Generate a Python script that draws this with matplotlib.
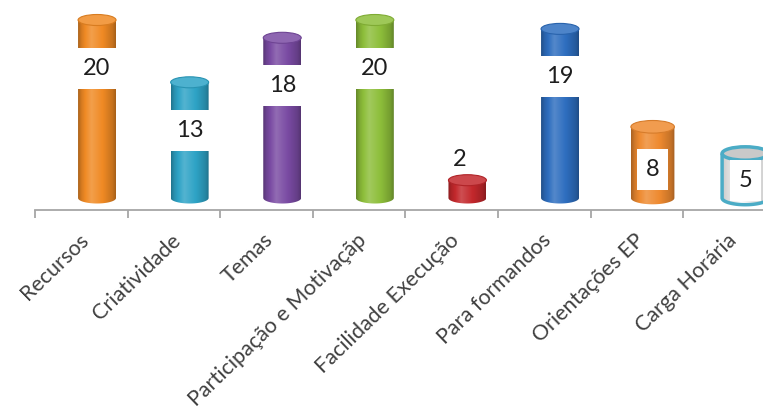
import numpy as np
import matplotlib.pyplot as plt
from matplotlib.patches import Polygon, Ellipse, Rectangle
from matplotlib.colors import to_rgb
from matplotlib import transforms

plt.rcParams['font.family'] = ['Lato', 'DejaVu Sans']

# data
categorias = ['Recursos', 'Criatividade', 'Temas', 'Participação e Motivaçãp',
              'Facilidade Execução', 'Para formandos', 'Orientações EP', 'Carga Horária']
valores = [20, 13, 18, 20, 2, 19, 8, 5]

# style
cores = ['#F08A24', '#2EA3C6', '#7A4BA3', '#8DBE3A', '#C3282C', '#2E6EBF', '#EE8A30', '#FFFFFF']
larguras = [0.41, 0.41, 0.41, 0.41, 0.41, 0.41, 0.47, 0.50]
px_x = 92.6   # pixels per category
px_y = 8.9    # pixels per unit


def sombra(rgb, f):
    rgb = np.array(rgb)
    if f >= 1:
        return rgb + (1 - rgb) * (f - 1)
    return rgb * f


def gradiente(cor, perfil=None, n=60):
    base = to_rgb(cor)
    t = np.linspace(0, 1, n)
    if perfil is None:
        perfil = np.interp(t, [0, 0.08, 0.35, 0.7, 0.92, 1], [0.72, 0.88, 1.18, 0.97, 0.82, 0.7])
    return np.array([sombra(base, f) for f in perfil])[None, :, :]


fig = plt.figure(figsize=(7.63, 4.19), dpi=100)
ax = fig.add_axes([35 / 763, 1 - 210 / 419, 8 * px_x / 763, 210 / 419])
ax.set_xlim(-0.5, 7.5)
ax.set_ylim(-12 / px_y, 198 / px_y)
renderer = fig.canvas.get_renderer()

x = np.arange(len(categorias))
for i, v in enumerate(valores):
    w = larguras[i]
    c = x[i] + 0.17
    e = 0.29 * w * px_x / px_y
    th = np.linspace(np.pi, 2 * np.pi, 40)
    pts = [(c - w / 2, v), (c - w / 2, 0)]
    pts += list(zip(c + w / 2 * np.cos(th), e / 2 * np.sin(th)))
    pts += [(c + w / 2, 0), (c + w / 2, v)]
    if cores[i] == '#FFFFFF':
        corpo = Polygon(pts, closed=True, facecolor='none', edgecolor='#4BACC6', lw=2.5, zorder=3)
        grad = gradiente('#FFFFFF', perfil=np.interp(np.linspace(0, 1, 60), [0, 0.4, 1], [0.8, 1.0, 0.78]))
        topo_cor, topo_borda = '#C9C9C9', '#4BACC6'
        lw_topo = 2.5
    else:
        corpo = Polygon(pts, closed=True, facecolor='none', edgecolor='none', zorder=3)
        grad = gradiente(cores[i])
        topo_cor = sombra(to_rgb(cores[i]), 1.15)
        topo_borda = sombra(to_rgb(cores[i]), 0.9)
        lw_topo = 0.8
    ax.add_patch(corpo)
    im = ax.imshow(grad, extent=(c - w / 2, c + w / 2, -e, v + e), aspect='auto',
                   origin='lower', zorder=2, interpolation='bilinear')
    im.set_clip_path(corpo)
    ax.add_patch(Ellipse((c, v), w, e, facecolor=topo_cor, edgecolor=topo_borda,
                         lw=lw_topo, zorder=4))

    # rótulos de dados
    if v < 3:
        ax.text(c - 0.08, v + 2.3, str(v), ha='center', va='center', fontsize=17,
                color='#1E1E1E', zorder=6)
        continue
    y_lab = max(v - 5.4, v * 0.4)
    t = ax.text(c, y_lab, str(v), ha='center', va='center', fontsize=17,
                color='#1E1E1E', zorder=6)
    larg_txt = t.get_window_extent(renderer).width
    bw = (larg_txt + 17) / px_x
    bh = 41 / px_y
    ax.add_patch(Rectangle((c - bw / 2, y_lab - bh / 2), bw, bh, facecolor='white',
                           edgecolor='none', zorder=5))

for s in ['top', 'right', 'left']:
    ax.spines[s].set_visible(False)
ax.spines['bottom'].set_color('#A6A6A6')
ax.spines['bottom'].set_linewidth(1.3)
ax.set_yticks([])
ax.set_xticks(np.arange(-0.5, 8, 1))
ax.set_xticklabels([])
ax.tick_params(axis='x', length=6, width=1.3, color='#A6A6A6', direction='out')

off = transforms.offset_copy(ax.get_xaxis_transform(), fig=fig, x=-3, y=-20, units='dots')
for i, nome in enumerate(categorias):
    ax.text(x[i], 0, nome, transform=off, rotation=44, rotation_mode='anchor',
            ha='right', va='top', fontsize=15.5, color='#404040')

fig.savefig('out.png', dpi=100)
